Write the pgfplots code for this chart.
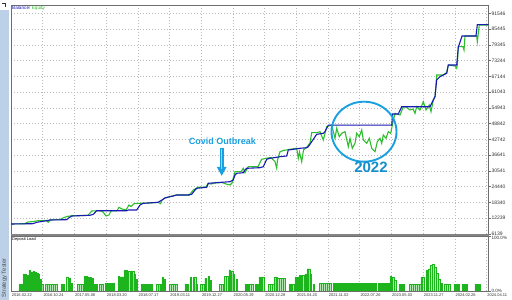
\documentclass[border=0pt]{standalone}
\usepackage{pgfplots}
\pgfplotsset{compat=1.18}
\usepackage{pgfplotstable}
\usepackage{fontspec}
\setmainfont{Liberation Sans}
\usetikzlibrary{arrows.meta}
\definecolor{balblue}{RGB}{25,25,180}
\definecolor{eqgreen}{RGB}{45,190,45}
\definecolor{gridc}{RGB}{185,185,185}
\definecolor{annot}{RGB}{25,160,225}
\definecolor{barfill}{RGB}{135,220,135}
\definecolor{bardraw}{RGB}{30,180,30}
\definecolor{stripc}{RGB}{188,208,232}
\definecolor{framec}{RGB}{110,110,110}

\pgfplotstableread{
x y
19.5 12.7
21.5 12.7
23.5 31
25.5 31
27.5 28
29.5 37.5
31.5 35
33.5 36
35.5 35
37.5 33
38.8 30
40.5 21
42.2 12.7
46 12.7
48 12.7
50 12.7
52 12.7
54 12.7
56 12.7
61.5 12.7
63.5 12.7
67 25.6
69.5 23
71.5 14
78 12.7
80 12.7
82 12.7
84.5 27
86.5 27
88.5 26
90.5 25
92.5 23
94.5 12.7
96.5 12.7
100 12.7
102 12.7
105.5 13.7
107.5 13.7
109.5 13.7
111.5 13.7
113.5 13.7
118.7 27
120.7 26
122.5 26
124.5 38.5
126.5 37.5
129 36.5
131.5 36.5
133 36.5
134.5 30
136.5 21
141.5 12.7
143.5 12.7
145.5 12.7
147.5 12.7
149.5 12.7
151.5 12.7
157 12.7
159 12.7
160.5 12.7
162.5 25.6
164.7 21
170 12.7
172 12.7
174 12.7
176 12.7
185.5 12.7
187.5 12.7
190.5 24.6
193.5 24.6
195 24.6
196.5 12.7
201 12.7
203 12.7
205.3 22.6
208.5 27
210.7 19.5
220 12.7
222 12.7
225 27
227 27
229.5 38.7
232 36.5
233.5 31.5
236.5 21
245.5 12.7
247.5 12.7
250 12.7
252 12.7
255.5 12.7
257.5 12.7
259.5 25.6
261.5 25.6
263 25.6
269 12.7
271 12.7
273 12.7
275 25.6
276.5 25.6
278 23
280 23
282 23
284 23
289.5 12.7
291.5 12.7
293 12.7
295.5 25.6
297.5 25.6
299.5 28.5
301.5 28.5
303 28.5
305.5 31.5
307.5 40.5
309 40.5
310.5 31.5
313.5 12.7
320 13.7
322 13.7
324 13.7
326 13.7
328 13.7
330 13.7
333.5 14
335.5 14
337.5 14
339.5 14.5
341.5 14
343.5 14
345.5 14.5
347.5 14
349.5 14
351.5 14.5
353.5 14
355.5 14
357.5 14.5
359.5 14.5
361.5 14.5
363.5 14.5
365.5 14.5
367.5 14.5
369.5 14
371.5 14.5
373.5 14
375.5 14
378.5 13.7
380.5 13.7
382.5 13.7
384.5 13.7
386.5 13.7
388.5 13.7
390.5 27
393 25
395 20
399.5 12.7
401.5 12.7
403.5 12.7
410 12.7
412 12.7
414 12.7
416 12.7
418 12.7
420 12.7
421.5 25.6
423 25.6
426.5 38.5
429 40.5
431 46.5
433 49.5
435 43
437 32
439 21
441.5 13.7
445 12.7
447 12.7
449 12.7
454.5 12.7
456.5 12.7
458.5 12.7
462.5 12.7
464.5 12.7
466.5 12.7
475.5 12.7
477.5 12.7
479.5 12.7
}\loadtable

\begin{document}
\begin{tikzpicture}[x=1pt,y=1pt]
\fill[white] (0,0) rectangle (512,300);
\fill[stripc] (0,0) rectangle (8.5,290);
\node[rotate=90,anchor=west,font=\fontsize{5.8}{6}\selectfont,text=black!70,inner sep=0pt] at (4.5,2.5) {Strategy Tester};
\fill[black!80] (1.5,292.5) rectangle (6,297);
\fill[white] (2.4,293.4) rectangle (5.1,296.1);

% main panel
\begin{axis}[
  at={(11pt,295pt)}, anchor=north west,
  width=477.5pt, height=229pt, scale only axis,
  xmin=11, xmax=488.5,
  ymin=6139, ymax=94831,
  scaled y ticks=false,
  xtick={11,42.7,74.4,106.1,137.8,169.5,201.2,232.9,264.6,296.3,328,359.7,391.4,423.1,454.8,486.5},
  xticklabels={},
  xtick style={draw=none},
  ytick={6139,12239,18340,24440,30541,36641,42742,48842,54943,61043,67144,73244,79345,85445,91546},
  yticklabels={6139,12239,18340,24440,30541,36641,42742,48842,54943,61043,67144,73244,79345,85445,91546},
  ytick pos=right, yticklabel pos=right,
  tick align=outside, major tick length=2pt,
  ytick style={framec, line width=0.5pt},
  yticklabel style={font=\fontsize{5}{5.5}\selectfont, text=black!80, inner sep=0.8pt},
  grid=major,
  major grid style={gridc, line width=0.55pt, dash pattern=on 1pt off 2pt},
  axis line style={framec, line width=0.7pt},
]
\addplot[eqgreen, line width=1.1pt, sharp plot] coordinates {
(11,10012) (25,10128) (28,10787) (33.3,10980) (38,11290) (46,11367) (48.3,10670) (50,11561)
(60,11754) (64,12529) (68,12994) (72,13187) (88,13381) (91.7,15047) (100,15163) (103,14660)
(106,13110) (109,13497) (111,15047) (117,15163) (119,16480) (122,15821) (126,15434) (129,17371)
(131,16790) (134,17874) (140,18029) (150,18145) (155,18300) (158,18400) (160.5,17900) (162,19300)
(165,20100) (170,20600) (176,21244) (186,21244) (189,21050) (193.3,23180) (198,24226) (206,24342)
(208,25697) (211,25504) (215,25891) (222,26085) (226,25504) (230,25117) (232,25891) (235,30268)
(241,30268) (243.3,31585) (245,29880) (248.3,32204) (258,32204) (261.7,35070) (266,35458)
(271,35768) (275,34140) (276.7,31585) (277.5,34798) (280,38014) (284,38556) (286.7,38672)
(290,38943) (296.7,39330) (298.3,35458) (299.5,37898) (301.7,34140) (303.5,38672) (307,39834)
(310,41384) (311.7,45373) (316.7,45373) (320,45760) (323.3,42546) (326.7,47697) (331.7,48356)
(335,43203) (336.7,47077) (339.3,43822) (341.7,45140) (345,45760) (348.3,39950) (350,43203)
(352.3,39330) (355,41267) (356.7,45140) (359.3,43822) (361.7,46419) (363.3,42546) (366.7,41267)
(369.3,43203) (371.7,39330) (375,38014) (377.3,41887) (380,43203) (381.7,41267) (383.3,44482)
(386,43203) (388.3,45760) (390.7,45140) (392.7,49013) (395,52886) (400,52228) (403.3,55441)
(406,55325) (410,54163) (413,54550) (415,52886) (416.7,55441) (420,54163) (423.3,57378)
(426,54163) (429.3,56100) (431,53506) (433.3,58038) (435,59315) (436.7,67720) (443,67720)
(446.7,68688) (448.3,71592) (455,71205) (456.7,70314) (457.3,71592) (458.3,78680) (463,78680)
(464,77402) (465,82824) (476.7,82824) (477.3,80616) (479.3,87084) (488.5,87084)
};
\addplot[balblue, line width=1.1pt, sharp plot] coordinates {
(11,10010) (33,10130) (36.7,10670) (46.7,11290) (50,11560) (66.7,11680) (68.3,12220) (71.7,13110)
(90,13380) (93.3,13770) (96.7,15160) (126.7,15160) (128.3,15430) (136.7,15430) (140,17370)
(143.3,18030) (158,18400) (162,19300) (165,20100) (170,20600) (173.3,20860) (176.7,21240)
(186.7,21240) (191.7,21520) (195,23180) (196.7,23840) (206.7,24230) (208.3,25780) (230,26400)
(233.3,27050) (235,28990) (236.7,29650) (243.3,29880) (245,30930) (246.7,31590) (260,31820)
(263.3,32200) (266.7,35070) (270,35460) (276.7,35850) (280,36080) (286.7,36350) (288.3,38670)
(293.3,38940) (300,39330) (306.7,39560) (308.3,39950) (316.7,44750) (323.3,45140) (325,45760)
(328.3,48300) (391.7,48300) (392.7,52620) (398.3,52620) (401.7,55440) (430,55440) (435,59320)
(436.7,65780) (440,67060) (443.3,67720) (446.7,68380) (448.3,71590) (456.7,71590) (458.3,78450)
(462,82820) (476,82820) (477.3,87200) (488.5,87200)
};
% annotations
\node[font=\bfseries\fontsize{9}{10}\selectfont, text=annot] at (axis cs:222.5,42158) {Covid Outbreak};
\draw[annot, line width=3.6pt, -{Triangle[width=9pt,length=9pt]}] (axis cs:221.7,39330) -- (axis cs:221.7,28602);
\draw[annot!45!white, line width=0.8pt] (axis cs:221.7,38900) -- (axis cs:221.7,31500);
\draw[annot, line width=1.9pt] (axis cs:364,45760) ellipse [x radius=32.5pt, y radius=30pt];
\node[font=\bfseries\fontsize{15}{16}\selectfont, text=annot!90!black] at (axis cs:371,32088) {2022};
\end{axis}

% deposit load panel
\begin{axis}[
  at={(11pt,64pt)}, anchor=north west,
  width=477.5pt, height=55pt, scale only axis,
  xmin=11, xmax=488.5, ymin=0, ymax=100,
  xtick={11,42.7,74.4,106.1,137.8,169.5,201.2,232.9,264.6,296.3,328,359.7,391.4,423.1,454.8,486.5},
  xticklabels={2016.02.22,2016.10.24,2017.05.08,2018.03.20,2018.07.17,2019.03.11,2019.12.27,2020.05.29,2020.12.28,2021.04.20,2021.11.02,2022.07.26,2023.05.03,2023.11.27,2024.02.26,2024.04.11},
  xtick style={draw=none},
  xticklabel style={anchor=north west, font=\fontsize{4}{4.5}\selectfont, text=black!80, inner sep=0.6pt},
  ytick={0,100}, yticklabels={\raisebox{4pt}{0.0\%},100.0\%},
  ytick pos=right, yticklabel pos=right,
  tick align=outside, major tick length=2pt,
  ytick style={framec, line width=0.5pt},
  yticklabel style={font=\fontsize{4.6}{5}\selectfont, text=black!80, inner sep=0.8pt, yshift=-2pt},
  xmajorgrids,
  major grid style={gridc, line width=0.55pt, dash pattern=on 1pt off 2pt},
  axis line style={framec, line width=0.7pt},
  ybar, bar width=1.3,
]
\addplot[fill=barfill, draw=bardraw, line width=0.3pt] table[x=x,y=y] {\loadtable};
\end{axis}

\fill[framec!85] (11,64) rectangle (488.5,66.3);
\node[anchor=west, inner sep=0pt, font=\fontsize{4.7}{5}\selectfont] at (12,291.3) {\textcolor{balblue}{Balance}\textcolor{black!60}{ / }\textcolor{eqgreen}{Equity}};
\node[anchor=west, inner sep=0pt, font=\fontsize{4}{4.5}\selectfont] at (12,60.5) {Deposit Load};
\end{tikzpicture}
\end{document}
